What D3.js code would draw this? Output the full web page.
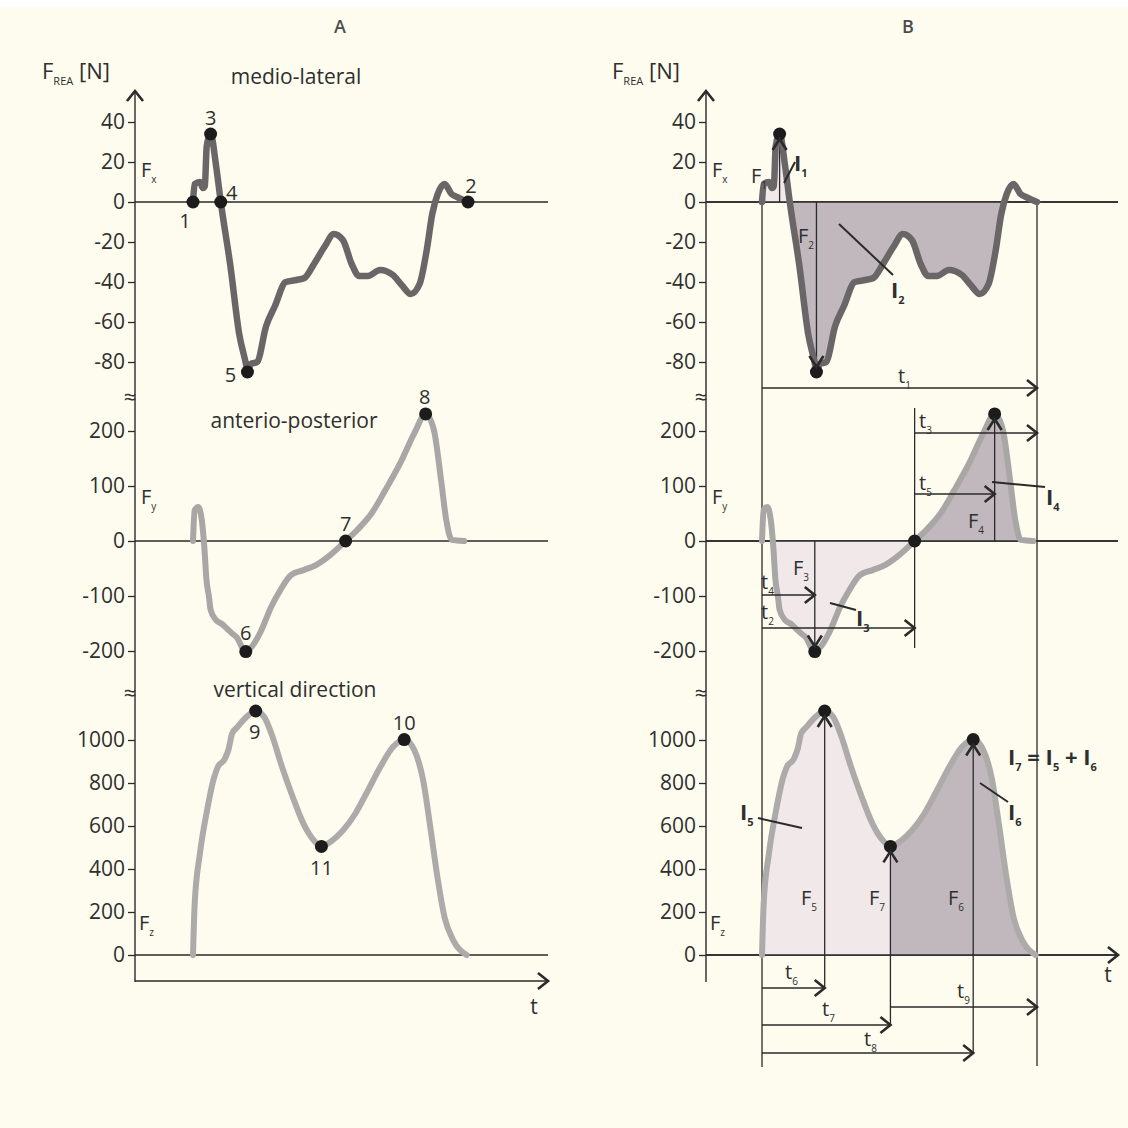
<!DOCTYPE html>
<html><head><meta charset="utf-8">
<script src="https://cdn.jsdelivr.net/npm/d3@7/dist/d3.min.js"></script>
<style>
html,body{margin:0;padding:0;background:#fdfcee;}
svg{display:block;}
text{font-family:"Open Sans","Noto Sans",sans-serif;fill:#2f2f2f;}
</style></head><body>
<svg id="c" width="1128" height="1128"></svg>
<script>
// ---------------- data (time in % of ground contact, force in N) ----------------
const fxT = [0, 0.6, 2.5, 3.6, 4.3, 5.0, 6.4, 8.4, 10.1, 13.6, 16.8, 19.4, 19.8, 21, 23.3, 26.6, 29.8, 33.7, 37.6, 40.5, 44, 48, 51.2, 54.5, 57.7, 60.4, 63.6, 68, 72.7, 75.9, 79.2, 82.4, 85, 87, 89, 91.5, 94, 96, 100];
const fxV = [0, 9, 10, 7, 8, 28, 34, 18, 0, -32, -66, -82, -85, -81, -80, -62, -52, -40, -39, -38, -31, -22, -16, -19, -31, -37, -37, -34, -36.5, -41.5, -46, -41, -24, -6, 4, 9, 4, 2.5, 0];

const fyT = [0, 0.6, 1.9, 3.2, 4.1, 4.9, 5.8, 6.4, 8.4, 10.3, 12.3, 14.2, 16.2, 18.1, 19.2, 21.4, 24.6, 28.5, 31.8, 35.6, 40.2, 44.7, 49.3, 55.5, 59.7, 64.9, 70, 75.3, 80.5, 84.6, 87.6, 90.2, 92.1, 94.1, 98.6];
const fyV = [0, 56, 62, 38, -10, -71, -101, -125, -144, -150, -159, -168, -177, -196, -201, -192, -165, -119, -89, -62, -53, -44, -28, 0, 20, 50, 93, 141, 196, 231, 202, 111, 38, 2, 0];

const fzT = [0, 0.6, 2.5, 5.1, 7.7, 9, 11.6, 13, 14.2, 16.2, 19.4, 22.8, 25.9, 28.5, 32.4, 36.3, 40.2, 43.5, 46.7, 50.6, 54.5, 59, 63.6, 68.1, 72.7, 76.8, 80.5, 83.7, 86.3, 88.9, 91.5, 94.8, 99.5];
const fzV = [0, 236, 470, 672, 827, 874, 913, 960, 1030, 1061, 1107, 1135, 1107, 1030, 874, 734, 610, 540, 505, 532, 579, 657, 765, 874, 967, 1002, 952, 812, 594, 361, 174, 65, 0];

const fxTicks = [40, 20, 0, -20, -40, -60, -80];
const fyTicks = [200, 100, 0, -100, -200];
const fzTicks = [1000, 800, 600, 400, 200, 0];

const titles = ["medio-lateral", "anterio-posterior", "vertical direction"];
const panelLetters = ["A", "B"];

// characteristic points (panel A numbering)
const keyLabels = ["1", "2", "3", "4", "5", "6", "7", "8", "9", "10", "11"];
const keySeries = ["x", "x", "x", "x", "x", "y", "y", "y", "z", "z", "z"];
const keyT = [0, 100, 6.4, 10.1, 19.8, 19.2, 55.5, 84.6, 22.8, 76.8, 46.7];
const keyV = [0, 0, 34, 0, -85, -201, 0, 231, 1135, 1002, 505];

// ---------------- layout ----------------
const svg = d3.select("#c");
svg.append("rect").attr("width", 1128).attr("height", 1128).attr("fill", "#fdfcee");
svg.append("rect").attr("width", 1128).attr("height", 7).attr("fill", "#ffffff");
const defs = svg.append("defs");

const xA = d3.scaleLinear().domain([0, 100]).range([193, 468]);
const xB = d3.scaleLinear().domain([0, 100]).range([762, 1037]);
const yS = {
  x: d3.scaleLinear().domain([40, -80]).range([122, 362]),
  y: d3.scaleLinear().domain([200, -200]).range([431, 651]),
  z: d3.scaleLinear().domain([1000, 0]).range([740, 955])
};
const series = {
  x: {t: fxT, v: fxV, ticks: fxTicks, color: "#6a6668"},
  y: {t: fyT, v: fyV, ticks: fyTicks, color: "#a9a6a6"},
  z: {t: fzT, v: fzV, ticks: fzTicks, color: "#adaaaa"}
};
const ink = "#2a2a2a";

function rows(k) { return series[k].t.map((t, i) => ({t, v: series[k].v[i]})); }

function richText(parent, x, y, parts, size, anchor) {
  const t = parent.append("text").attr("x", x).attr("y", y)
    .attr("font-size", size).attr("text-anchor", anchor || "start");
  let off = 0;
  parts.forEach(([s, sub]) => {
    const sp = t.append("tspan").text(s);
    const target = sub ? size * 0.28 : 0;
    sp.attr("dy", target - off);
    off = target;
    if (sub) sp.attr("font-size", size * 0.5);
  });
  return t;
}
function chevron(g, x, y, dir, len, half) {
  len = len || 11; half = half || 8;
  let p;
  if (dir === "right") p = [[x - len, y - half], [x, y], [x - len, y + half]];
  if (dir === "up") p = [[x - half, y + len], [x, y], [x + half, y + len]];
  if (dir === "down") p = [[x - half, y - len], [x, y], [x + half, y - len]];
  g.append("path").attr("d", d3.line()(p)).attr("fill", "none")
    .attr("stroke", ink).attr("stroke-width", 2.6).attr("stroke-linejoin", "miter");
}
function hline(g, x1, x2, y, w) {
  g.append("line").attr("x1", x1).attr("x2", x2).attr("y1", y).attr("y2", y)
    .attr("stroke", ink).attr("stroke-width", w || 1.3);
}
function vline(g, x, y1, y2, w) {
  g.append("line").attr("x1", x).attr("x2", x).attr("y1", y1).attr("y2", y2)
    .attr("stroke", ink).attr("stroke-width", w || 1.3);
}

// ---------------- common frame for both panels ----------------
const sides = [
  {x: xA, axisX: 135, right: 548, letterX: 340, frea: 42},
  {x: xB, axisX: 706, right: 1118, letterX: 908, frea: 612}
];
sides.forEach((s, si) => {
  const g = svg.append("g");
  g.append("text").attr("x", s.letterX).attr("y", 33).attr("text-anchor", "middle")
    .attr("font-size", 18).attr("font-weight", 600).style("fill", "#4d4d4d").text(panelLetters[si]);
  richText(g, s.frea, 79, [["F", false], ["REA", true], [" [N]", false]], 22);
  vline(g, s.axisX, 91, 982, 1.4);
  chevron(g, s.axisX, 91, "up", 10, 8);
  ["x", "y", "z"].forEach(k => {
    const ax = g.append("g").attr("transform", `translate(${s.axisX},0)`)
      .call(d3.axisLeft(yS[k]).tickValues(series[k].ticks).tickFormat(d => String(d))
        .tickSize(7).tickPadding(3).tickSizeOuter(0));
    ax.select(".domain").remove();
    ax.selectAll("line").attr("stroke", ink).attr("stroke-width", 1.3);
    ax.selectAll("text").attr("font-size", 21).attr("font-family", null).style("fill", "#2f2f2f");
    hline(g, s.axisX, s.right, yS[k](0), 1.3);
  });
  [396, 692].forEach(yy => {
    g.append("text").attr("x", s.axisX - 5).attr("y", yy).attr("font-size", 22)
      .attr("text-anchor", "middle").attr("dominant-baseline", "central").text("≈");
  });
  richText(g, s.axisX + 6, 177, [["F", false], ["x", true]], 20);
  richText(g, s.axisX + 6, 504, [["F", false], ["y", true]], 20);
  richText(g, s.axisX + 4, 930, [["F", false], ["z", true]], 20);
});

// ---------------- panel A ----------------
const gA = svg.append("g");
const lineA = k => d3.line().x(d => xA(d.t)).y(d => yS[k](d.v)).curve(d3.curveMonotoneX);
["x", "y", "z"].forEach(k => {
  gA.append("path").attr("d", lineA(k)(rows(k))).attr("fill", "none")
    .attr("stroke", series[k].color).attr("stroke-width", k === "x" ? 6.5 : 6).attr("stroke-linejoin", "round").attr("stroke-linecap", "round");
});
hline(gA, 135, 548, 981, 1.4);
chevron(gA, 548, 981, "right", 10, 8);
gA.append("text").attr("x", 534).attr("y", 1014).attr("font-size", 21).attr("text-anchor", "middle").text("t");
[[296, 84], [294, 428], [295, 697]].forEach(([x, y], i) => {
  gA.append("text").attr("x", x).attr("y", y).attr("font-size", 21).attr("text-anchor", "middle").text(titles[i]);
});
const labelOff = [[-8, 18], [3, -17], [0, -17], [11, -10], [-17, 2], [0, -19], [0, -18], [-1, -17], [-1, 21], [0, -17], [0, 21]];
keyLabels.forEach((lab, i) => {
  const cx = xA(keyT[i]), cy = yS[keySeries[i]](keyV[i]);
  gA.append("circle").attr("cx", cx).attr("cy", cy).attr("r", 6.5).attr("fill", "#1c1c1c");
  gA.append("text").attr("x", cx + labelOff[i][0]).attr("y", cy + labelOff[i][1])
    .attr("font-size", 20).attr("text-anchor", "middle").attr("dominant-baseline", "central").text(lab);
});

// ---------------- panel B ----------------
const gB = svg.append("g");
const light = "#f1e8e9", dark = "#c0b8bc";
const fills = [
  ["x", 0, 10.1, light], ["x", 10.1, 88, dark],
  ["y", 3.9, 55.5, light], ["y", 55.5, 100, dark],
  ["z", 0, 46.7, light], ["z", 46.7, 100, dark]
];
fills.forEach(([k, t0, t1, col], i) => {
  const id = "clip" + i;
  defs.append("clipPath").attr("id", id).append("rect")
    .attr("x", xB(t0)).attr("y", 0).attr("width", xB(t1) - xB(t0)).attr("height", 1128);
  const area = d3.area().x(d => xB(d.t)).y0(yS[k](0)).y1(d => yS[k](d.v)).curve(d3.curveMonotoneX);
  gB.append("path").attr("d", area(rows(k))).attr("fill", col).attr("clip-path", `url(#${id})`);
});
["x", "y", "z"].forEach(k => hline(gB, 706, 1118, yS[k](0), 1.3));
chevron(gB, 1118, yS.z(0), "right", 10, 8);
gB.append("text").attr("x", 1108).attr("y", 982).attr("font-size", 21).attr("text-anchor", "middle").text("t");

vline(gB, xB(0), yS.x(0), 1067);
vline(gB, xB(100), yS.x(0), 1066);
vline(gB, xB(keyT[6]), 408, 648);

const lineB = k => d3.line().x(d => xB(d.t)).y(d => yS[k](d.v)).curve(d3.curveMonotoneX);

// force arrows: [key index, label main, label sub, label x, label y, extra bottom y]
const fArrows = [
  [2, "F", "1", 751, 183, null],
  [4, "F", "2", 798, 243, null],
  [5, "F", "3", 793, 575, null],
  [7, "F", "4", 968, 528, null],
  [8, "F", "5", 801, 905, 988],
  [10, "F", "7", 869, 905, 1025],
  [9, "F", "6", 948, 905, 1053]
];
fArrows.forEach(([ki, m, sb, lx, ly, bottom]) => {
  const k = keySeries[ki];
  const x = xB(keyT[ki]), y0 = yS[k](0), yv = yS[k](keyV[ki]);
  const up = keyV[ki] > 0;
  const tipY = up ? yv + 5 : yv - 5;
  vline(gB, x, bottom !== null ? bottom : y0, tipY);
});

["x", "y", "z"].forEach(k => {
  gB.append("path").attr("d", lineB(k)(rows(k))).attr("fill", "none")
    .attr("stroke", series[k].color).attr("stroke-width", k === "x" ? 6.5 : 6).attr("stroke-linejoin", "round").attr("stroke-linecap", "round");
});
[2, 4, 5, 6, 7, 8, 10, 9].forEach(ki => {
  gB.append("circle").attr("cx", xB(keyT[ki])).attr("cy", yS[keySeries[ki]](keyV[ki])).attr("r", 6.5).attr("fill", "#1c1c1c");
});
fArrows.forEach(([ki, m, sb, lx, ly]) => {
  const k = keySeries[ki];
  const x = xB(keyT[ki]), yv = yS[k](keyV[ki]);
  const up = keyV[ki] > 0;
  const tipY = up ? yv + 5 : yv - 5;
  chevron(gB, x, tipY, up ? "up" : "down", 11, 7);
  richText(gB, lx, ly, [[m, false], [sb, true]], 20);
});

// time arrows: [t start, t end, y pixel, sub, label x, label y]
const tArrows = [
  [0, 100, 388, "1", 898, 383],
  [keyT[6], 100, 433, "3", 919, 428],
  [keyT[6], keyT[7], 494, "5", 919, 490],
  [0, keyT[5], 595, "4", 761, 589],
  [0, keyT[6], 628, "2", 761, 619],
  [0, keyT[8], 988, "6", 785, 979],
  [keyT[10], 100, 1007, "9", 957, 998],
  [0, keyT[10], 1025, "7", 822, 1016],
  [0, keyT[9], 1053, "8", 864, 1046]
];
tArrows.forEach(([t0, t1, y, sb, lx, ly]) => {
  hline(gB, xB(t0), xB(t1), y, 1.4);
  chevron(gB, xB(t1), y, "right", 10, 8);
  richText(gB, lx, ly, [["t", false], [sb, true]], 20);
});

// area labels with leader lines: [x1,y1,x2,y2, sub, lx, ly]
const leaders = [
  [784, 183, 795, 162, "1", 794, 171],
  [839, 224, 893, 275, "2", 891, 298],
  [830, 603, 856, 610, "3", 856, 626],
  [992, 482, 1045, 487, "4", 1046, 505],
  [758, 818, 802, 828, "5", 740, 820],
  [980, 783, 1008, 802, "6", 1008, 820]
];
leaders.forEach(([x1, y1, x2, y2, sb, lx, ly]) => {
  gB.append("line").attr("x1", x1).attr("y1", y1).attr("x2", x2).attr("y2", y2)
    .attr("stroke", ink).attr("stroke-width", 2);
  richText(gB, lx, ly, [["I", false], [sb, true]], 22).attr("font-weight", "bold");
});
richText(gB, 1008, 765, [["I", false], ["7", true], [" = I", false], ["5", true], [" + I", false], ["6", true]], 22).attr("font-weight", "bold");
</script>
</body></html>
